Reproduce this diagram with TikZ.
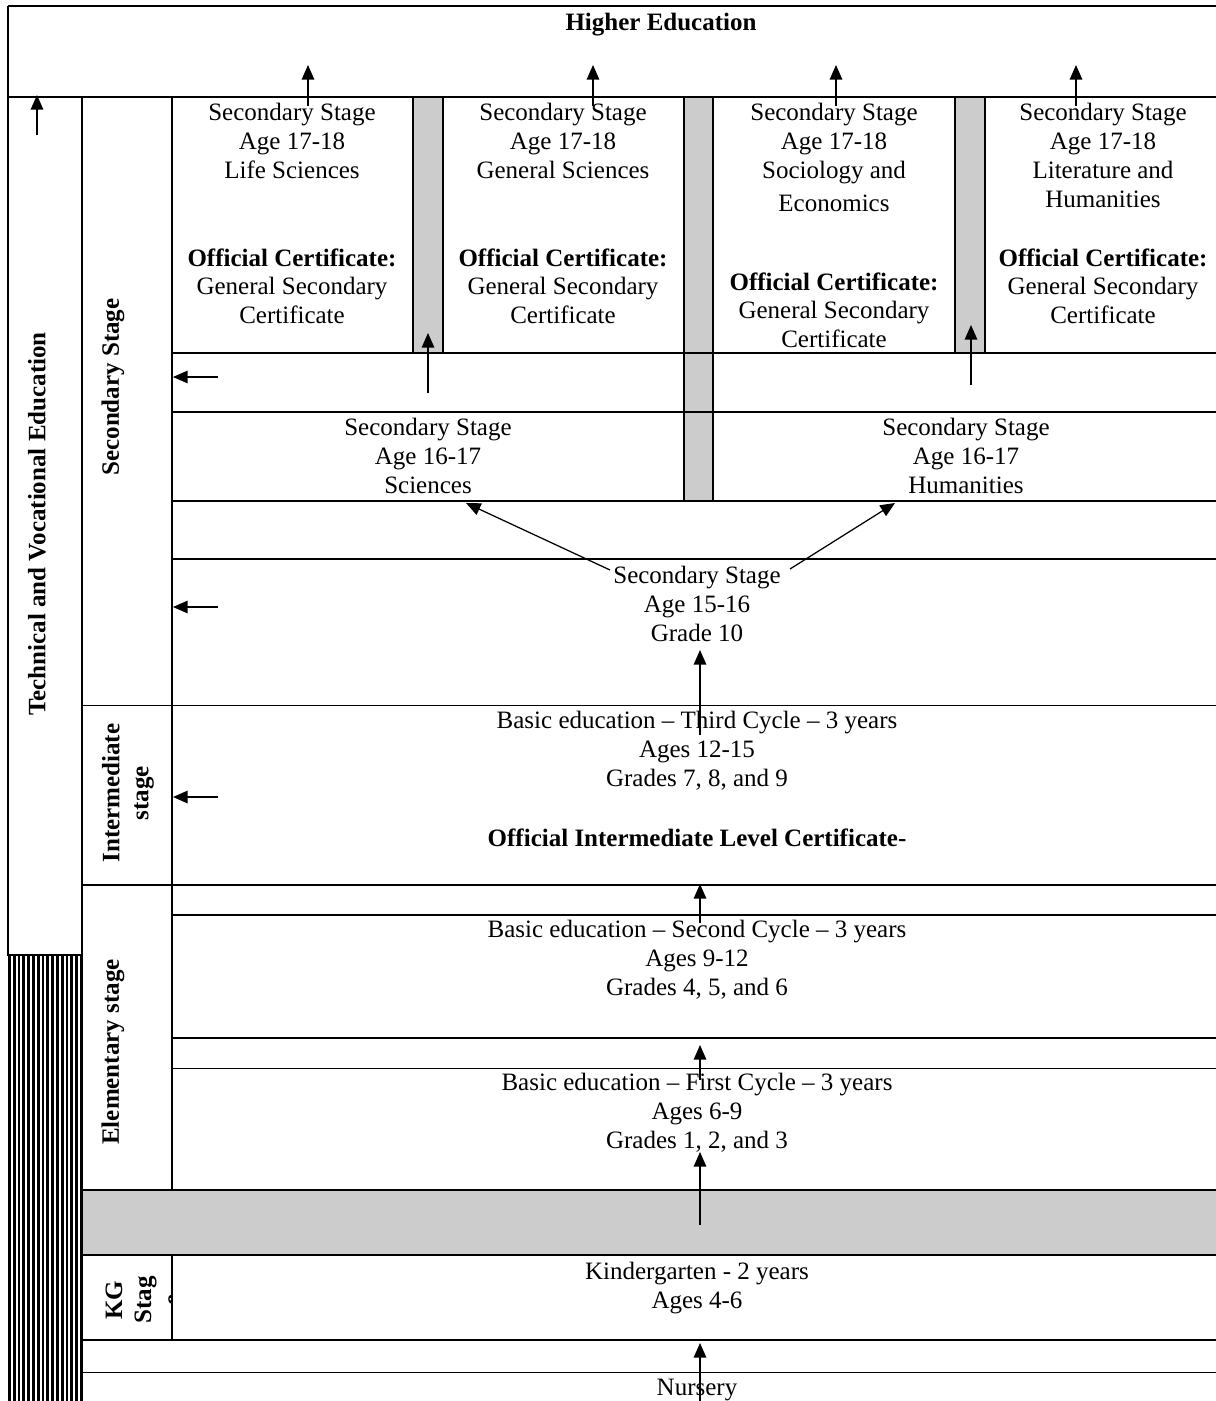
\documentclass[tikz,border=0pt]{standalone}
\usepackage{fontspec}
\setmainfont{Liberation Serif}
\usetikzlibrary{arrows.meta}
\definecolor{bargray}{HTML}{CCCCCC}
\tikzset{
  txt/.style={inner sep=0pt, align=center, anchor=north},
  side/.style={inner sep=0pt, align=center, rotate=90, font=\bfseries},
  rule/.style={line width=0.8pt},
  thinrule/.style={line width=0.45pt},
  arr/.style={->, line width=0.6pt}
}
\begin{document}
\fontsize{12}{13.9}\selectfont
\begin{tikzpicture}[x=0.48pt,y=-0.48pt,>={Triangle[length=7pt,width=6pt]}]
\useasboundingbox (0,0) rectangle (1216,1401);
% grey bars and the striped block
\fill[bargray] (413,97) rectangle (443,353);
\fill[bargray] (684,97) rectangle (713,501);
\fill[bargray] (955,97) rectangle (985,353);
\fill[bargray] (82,1190) rectangle (1216,1255);
\foreach \i in {0,...,15}
  \fill (8+\i*4.8,955) rectangle ++(2.8,446);
% rows
\draw[rule] (8,6) -- (1216,6) (8,97) -- (1216,97);
\foreach \x/\y in {172/353,172/412,172/501,172/559,82/885,172/915,172/1038,82/1190,82/1255,82/1340}
  \draw[rule] (\x,\y) -- (1216,\y);
\foreach \x/\y in {82/705,172/1068,82/1372}
  \draw[thinrule] (\x,\y) -- (1216,\y);
% columns
\draw[rule] (8,6) -- (8,955) -- (82,955);
\draw[rule] (82,97) -- (82,1401);
\draw[rule] (172,97) -- (172,1190) (172,1255) -- (172,1340);
\foreach \x/\y in {413/353,443/353,684/501,713/501,955/353,985/353}
  \draw[rule] (\x,97) -- (\x,\y);
% texts
\node[txt,font=\bfseries] (higher) at (661,13) {Higher Education};
\node[txt] (life) at (292,103) {Secondary Stage\\Age 17-18\\Life Sciences};
\node[txt] (lifecert) at (292,248) {\textbf{Official Certificate:}\\General Secondary\\Certificate};
\node[txt] (gensci) at (563,103) {Secondary Stage\\Age 17-18\\General Sciences};
\node[txt] (gencert) at (563,248) {\textbf{Official Certificate:}\\General Secondary\\Certificate};
\node[txt] (socio) at (834,103) {Secondary Stage\\Age 17-18\\Sociology and\\[2pt]Economics};
\node[txt] (sociocert) at (834,272) {\textbf{Official Certificate:}\\General Secondary\\Certificate};
\node[txt] (lit) at (1103,103) {Secondary Stage\\Age 17-18\\Literature and\\Humanities};
\node[txt] (litcert) at (1103,248) {\textbf{Official Certificate:}\\General Secondary\\Certificate};
\node[txt] (sci) at (428,418) {Secondary Stage\\Age 16-17\\Sciences};
\node[txt] (hum) at (966,418) {Secondary Stage\\Age 16-17\\Humanities};
\node[txt] (grade10) at (697,566) {Secondary Stage\\Age 15-16\\Grade 10};
\node[txt] (third) at (697,711) {Basic education -- Third Cycle -- 3 years\\Ages 12-15\\Grades 7, 8, and 9};
\node[txt,font=\bfseries] (intcert) at (697,828) {Official Intermediate Level Certificate-};
\node[txt] (second) at (697,920) {Basic education -- Second Cycle -- 3 years\\Ages 9-12\\Grades 4, 5, and 6};
\node[txt] (first) at (697,1073) {Basic education -- First Cycle -- 3 years\\Ages 6-9\\Grades 1, 2, and 3};
\node[txt] (kg) at (697,1262) {Kindergarten - 2 years\\Ages 4-6};
\node[txt] (nursery) at (697,1379) {Nursery};
% side labels
\node[side] (tve) at (37,524) {Technical and Vocational Education};
\node[side] (secstage) at (113,387) {Secondary Stage};
\node[side] (intstage) at (128,793) {Intermediate\\stage};
\node[side] (elemstage) at (113,1052) {Elementary stage};
\begin{scope}
  \clip (82,1255) rectangle (172,1340);
  \node[side] (kgstage) at (143,1300) {KG\\Stag\\e};
\end{scope}
% arrows
\foreach \n/\xa/\ya/\xb/\yb in {t1/308/106/308/65,t2/593/106/593/65,t3/836/106/836/65,t4/1076/106/1076/65,
    tv/37/135/37/95,b1/428/393/428/333,b2/971/385/971/325,
    l1/218/377/173/377,l2/218/607/173/607,l3/218/797/173/797,
    d1/610/570/466/503,d2/790/569/895/503,
    m1/700/735/700/650,m2/700/923/700/884,m3/700/1080/700/1045,m4/700/1225/700/1152,m5/700/1401/700/1343}{
  \coordinate (\n-s) at (\xa,\ya);
  \coordinate (\n-e) at (\xb,\yb);
  \draw[arr] (\n-s) -- (\n-e);
}
\end{tikzpicture}
\end{document}
